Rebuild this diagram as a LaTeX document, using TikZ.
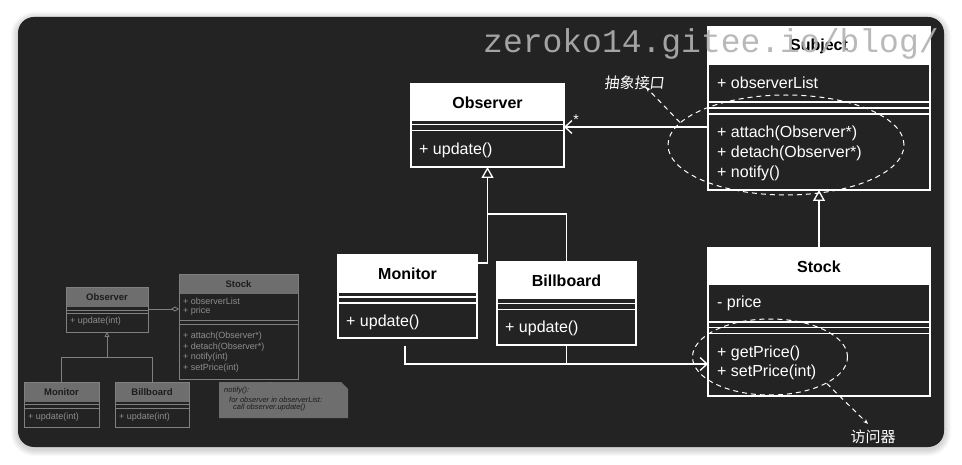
\documentclass[tikz,border=0pt]{standalone}
\usepackage{fontspec}
\setmainfont{Liberation Sans}
\newfontfamily\cjk{Noto Sans CJK SC}
\newfontfamily\cjkslant[FakeSlant=0.12]{Noto Sans CJK SC}
\newfontfamily\wmfont{Liberation Mono}
\usetikzlibrary{shapes.geometric,arrows.meta,calc}
\definecolor{bgdark}{HTML}{232323}
\definecolor{cMiniHead}{HTML}{6E6E6E}
\definecolor{cMiniLine}{HTML}{808080}
\definecolor{cMiniText}{HTML}{8E8E8E}
\definecolor{cMiniDark}{HTML}{1C1C1C}
\definecolor{cWm}{HTML}{B2B2B2}
\tikzset{
  x=1pt, y=-1pt,
  wl/.style={draw=white, line width=1.3pt},
  bighead/.style={fill=white},
  bigbox/.style={rectangle, draw=white, line width=1.3pt, inner sep=0pt, outer sep=0pt},
  bigttl/.style={font=\bfseries\fontsize{16}{18}\selectfont, text=black, inner sep=0pt},
  mem/.style={font=\fontsize{16}{18}\selectfont, text=white, anchor=west, inner sep=0pt},
  minihead/.style={fill=cMiniHead},
  minibox/.style={rectangle, draw=cMiniLine, line width=0.8pt, inner sep=0pt, outer sep=0pt},
  minittl/.style={font=\bfseries\fontsize{9.5}{11}\selectfont, text=cMiniDark, inner sep=0pt},
  mmem/.style={font=\fontsize{9}{10}\selectfont, text=cMiniText, anchor=west, inner sep=0pt},
  ml/.style={draw=cMiniLine, line width=0.8pt},
  notetxt/.style={font=\itshape\fontsize{7.5}{8}\selectfont, text=cMiniDark, anchor=west, inner sep=0pt},
  dashell/.style={ellipse, draw=white, dashed, dash pattern=on 5pt off 4pt, line width=1pt, inner sep=0pt},
  dasharr/.style={draw=white, dashed, dash pattern=on 5pt off 4pt, line width=1pt, -{Stealth[length=5pt,width=4pt]}},
  assoc/.style={wl, -{Straight Barb[length=7pt,width=13pt]}},
  gen/.style={wl, -{Triangle[fill=bgdark,length=11pt,width=12pt]}},
  cjklbl/.style={font=\cjk\fontsize{15}{16}\selectfont, text=white, inner sep=0pt},
}
\newcommand{\UMLcls}[8]{%
  \fill[#8head] (#2,#3) rectangle (#4,#6);
  \node[#8box, minimum width={#4-#2}, minimum height={#5-#3}] (#1) at ({(#2+#4)/2},{(#3+#5)/2}) {};
  \node[#8ttl] (#1-t) at ({(#2+#4)/2},{(#3+#6)/2}) {#7};
}
\begin{document}
\begin{tikzpicture}
\useasboundingbox (0,0) rectangle (962,465);
\fill[white] (0,0) rectangle (962,465);
% shadow
\foreach \i in {1,...,7}
  \fill[black, opacity=0.022, rounded corners={16+\i}] ({18-\i},{17-\i+2}) rectangle ({944+\i},{447+\i+2});
\fill[bgdark, rounded corners=16pt] (18,17) rectangle (944,447);

% ---------- mini diagram (left) ----------
\UMLcls{mobs}{66}{287}{148}{332}{307}{Observer}{mini}
\draw[ml] (66,310) -- (148,310);
\draw[ml] (66,313.5) -- (148,313.5);
\node[mmem] (mobs-m1) at (70,321) {+ update(int)};

\UMLcls{mmon}{24}{382}{99}{427}{402}{Monitor}{mini}
\draw[ml] (24,404.5) -- (99,404.5);
\draw[ml] (24,408) -- (99,408);
\node[mmem] (mmon-m1) at (28,417) {+ update(int)};

\UMLcls{mbill}{115}{382}{189}{427}{402}{Billboard}{mini}
\draw[ml] (115,404.5) -- (189,404.5);
\draw[ml] (115,408) -- (189,408);
\node[mmem] (mbill-m1) at (119,417) {+ update(int)};

\UMLcls{mstock}{179}{274}{298}{379}{294}{Stock}{mini}
\node[mmem] (mstock-a1) at (183,301) {+ observerList};
\node[mmem] (mstock-a2) at (183,311) {+ price};
\draw[ml] (179,320) -- (298,320);
\draw[ml] (179,324.5) -- (298,324.5);
\node[mmem] (mstock-m1) at (183,336) {+ attach(Observer*)};
\node[mmem] (mstock-m2) at (183,347) {+ detach(Observer*)};
\node[mmem] (mstock-m3) at (183,357) {+ notify(int)};
\node[mmem] (mstock-m4) at (183,368) {+ setPrice(int)};

\coordinate (mj) at (107,357);
\draw[ml, -{Triangle[fill=bgdark,length=5pt,width=5pt]}] (mmon.north) |- (mj) -- (mobs.south);
\draw[ml] (mbill.north) |- (mj);
\coordinate (mag) at (0,309);
\draw[ml, -{Diamond[fill=bgdark,length=8pt,width=5pt]}] (mobs.east |- mag) -- (mstock.west |- mag);

% note
\fill[cMiniHead] (219,382) -- (341,382) -- (348,389) -- (348,418) -- (219,418) -- cycle;
\coordinate (nt) at (270,382);
\draw[ml, dotted] (mstock.south -| nt) -- (nt);
\node[notetxt] (note1) at (224,391) {notify():};
\node[notetxt] (note2) at (229,399.5) {for observer in observerList:};
\node[notetxt] (note3) at (233,408) {call observer.update()};

% ---------- main diagram ----------
\UMLcls{obs}{411}{84}{564}{167}{121}{Observer}{big}
\draw[wl] (411,124.5) -- (564,124.5);
\draw[wl] (411,130.5) -- (564,130.5);
\node[mem] (obs-m1) at (419,150) {+ update()};

\UMLcls{subj}{708}{27}{930}{190}{65}{Subject}{big}
\node[mem] (subj-a1) at (717,83) {+ observerList};
\draw[wl] (708,102) -- (930,102);
\draw[wl] (708,108) -- (930,108);
\draw[wl] (708,114) -- (930,114);
\node[mem] (subj-m1) at (717,133) {+ attach(Observer*)};
\node[mem] (subj-m2) at (717,153) {+ detach(Observer*)};
\node[mem] (subj-m3) at (717,173) {+ notify()};

\UMLcls{stock}{708}{248}{930}{396}{285}{Stock}{big}
\node[mem] (stock-a1) at (717,303) {- price};
\draw[wl] (708,322) -- (930,322);
\draw[wl] (708,327.5) -- (930,327.5);
\draw[wl] (708,333.5) -- (930,333.5);
\node[mem] (stock-m1) at (717,353) {+ getPrice()};
\node[mem] (stock-m2) at (717,372) {+ setPrice(int)};

\UMLcls{mon}{338}{255}{477}{338}{293}{Monitor}{big}
\draw[wl] (338,297) -- (477,297);
\draw[wl] (338,303) -- (477,303);
\node[mem] (mon-m1) at (346,322) {+ update()};

\UMLcls{bill}{497}{262}{636}{345}{299}{Billboard}{big}
\draw[wl] (497,303.5) -- (636,303.5);
\draw[wl] (497,309.5) -- (636,309.5);
\node[mem] (bill-m1) at (505,328) {+ update()};

% generalizations
\coordinate (j1) at (487.5,214);
\draw[gen] ($(mon.north east)+(0,8)$) -| (obs.south);
\draw[wl] (bill.north) |- (j1);
\draw[gen] (stock.north) -- (subj.south);

% association Subject -> Observer
\coordinate (a1) at (708,127);
\draw[assoc] (a1) -- (a1 -| obs.east);
\node[text=white, font=\fontsize{14}{14}\selectfont, inner sep=0pt] (star) at (576,120) {*};

% Monitor/Billboard -> Stock
\coordinate (a2) at (708,364);
\draw[assoc] ($(mon.south)+(-2.5,8)$) |- (a2);
\draw[wl] (bill.south) -- (bill.south |- a2);

% dashed ellipses and labels
\node[dashell, minimum width=236pt, minimum height=100pt] (e1) at (786,145) {};
\node[font=\cjkslant\fontsize{15}{16}\selectfont, text=white, inner sep=0pt] (lbl1) at (634,83) {抽象接口};
\draw[dasharr] (e1.168) -- ($(lbl1.south)+(12,-3)$);

\node[dashell, minimum width=155pt, minimum height=76pt] (e2) at (770,357) {};
\node[cjklbl] (lbl2) at (873,437) {访问器};
\draw[dasharr] (e2.335) -- ($(lbl2.north)+(-5,-6)$);

% watermark
\node[font=\wmfont\fontsize{33}{33}\selectfont, text=cWm, opacity=0.9, anchor=base west, inner sep=0pt] (wm) at (483,53) {zeroko14.gitee.io/blog/};
\end{tikzpicture}
\end{document}
